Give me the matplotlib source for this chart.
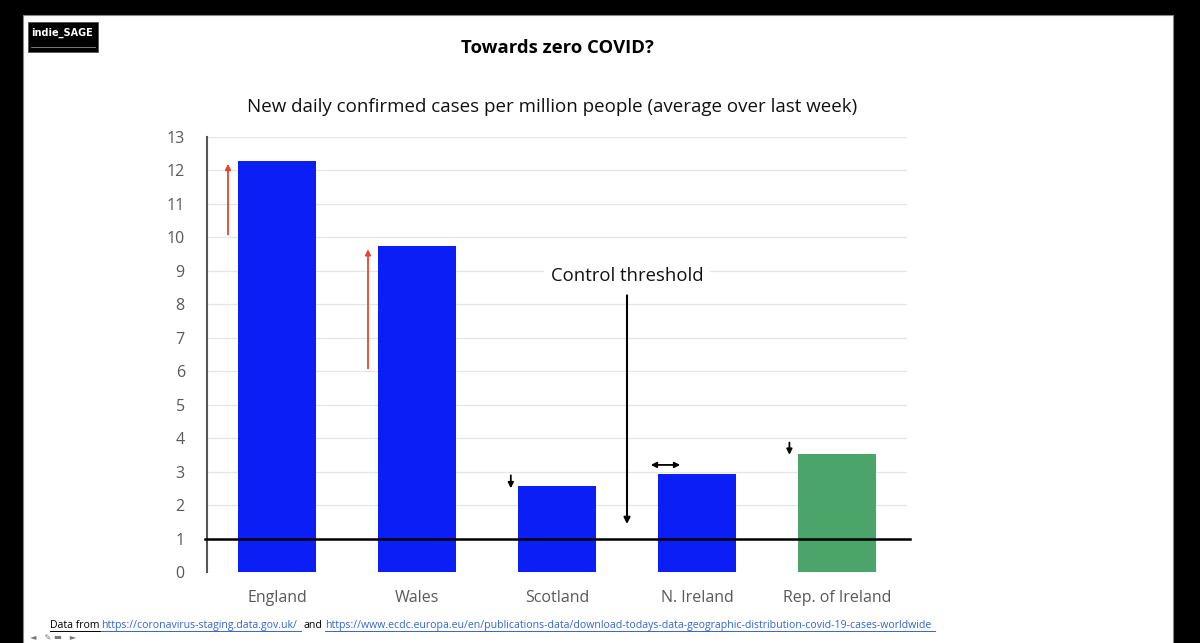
import matplotlib.pyplot as plt
from matplotlib.patches import Rectangle

# data
regions = ["England", "Wales", "Scotland", "N. Ireland", "Rep. of Ireland"]
cases_per_million = [12.28, 9.73, 2.57, 2.93, 3.53]
bar_colors = ["#0a1ef5", "#0a1ef5", "#0a1ef5", "#0a1ef5", "#4ba46a"]
y_ticks = list(range(0, 14))
control_threshold = 1.0

# change arrows: (x, y_start, y_end)
rise_arrows = [(-0.35, 10.0, 12.28), (0.65, 6.0, 9.73)]
fall_arrows = [(1.67, 2.97, 2.42), (3.66, 3.95, 3.42)]
flat_arrow = (2.65, 2.9, 3.2)  # x_start, x_end, y
threshold_arrow = (2.5, 8.35, 1.35)

W, H = 1200, 643
fig = plt.figure(figsize=(W / 100, H / 100), dpi=100, facecolor="black")
plt.rcParams["font.family"] = ["Open Sans", "DejaVu Sans"]

# white slide area
bg = fig.add_axes([0, 0, 1, 1])
bg.set_xlim(0, W)
bg.set_ylim(H, 0)
bg.axis("off")
bg.add_patch(Rectangle((23, 15), 1150, 640, facecolor="white", edgecolor="#888888", lw=0.8))

# logo
bg.add_patch(Rectangle((28, 22), 70, 30, facecolor="black", edgecolor="#555555", lw=0.6))
bg.text(31, 33, "indie_SAGE", color="white", fontsize=7, fontweight="bold",
        family="DejaVu Sans", va="center", ha="left")
bg.plot([31, 95], [47, 47], color="#aaaaaa", lw=0.5)

bg.text(557, 48, "Towards zero COVID?", fontsize=13.3, fontweight="bold", ha="center", va="center")
bg.text(552, 107, "New daily confirmed cases per million people (average over last week)",
        fontsize=13.5, ha="center", va="center", color="#111111")

# footnote
fn = 7.6
fy_txt = 625.5
bg.text(50, fy_txt, "Data from", fontsize=fn, ha="left", va="center", color="black")
bg.plot([50, 100], [631, 631], color="black", lw=0.7)
link1 = "https://coronavirus-staging.data.gov.uk/"
link2 = "https://www.ecdc.europa.eu/en/publications-data/download-todays-data-geographic-distribution-covid-19-cases-worldwide"
bg.text(101, fy_txt, link1, fontsize=fn, ha="left", va="center", color="#3366cc")
bg.plot([101, 301], [631, 631], color="#3366cc", lw=0.7)
bg.text(304, fy_txt, "and", fontsize=fn, ha="left", va="center", color="black")
bg.text(325, fy_txt, link2, fontsize=fn, ha="left", va="center", color="#3366cc")
bg.plot([325, 935], [631, 631], color="#3366cc", lw=0.7)

# player controls at the bottom edge
bg.text(30, 637, "◄   ✎ ▬   ►", fontsize=6, color="#777777", ha="left", va="center",
        family="DejaVu Sans")

# main chart
x0, x1, ytop, ybot = 207, 907, 137, 572
ax = fig.add_axes([x0 / W, (H - ybot) / H, (x1 - x0) / W, (ybot - ytop) / H])
ax.set_facecolor("none")
xs = list(range(len(regions)))
ax.bar(xs, cases_per_million, width=0.557, color=bar_colors, zorder=2)
ax.set_xlim(-0.5, len(regions) - 0.5)
ax.set_ylim(0, 13)
ax.set_yticks(y_ticks)
ax.set_xticks(xs)
ax.set_xticklabels(regions)
ax.tick_params(length=0, colors="#595959", labelsize=11.5)
ax.tick_params(axis="y", pad=16)
ax.tick_params(axis="x", pad=13)
ax.grid(axis="y", color="#e6e6e6", lw=0.9, zorder=0)
for s in ["top", "right", "bottom"]:
    ax.spines[s].set_visible(False)
ax.spines["left"].set_color("#555555")
ax.spines["left"].set_linewidth(1.5)

ax.axhline(control_threshold, xmin=-0.003, xmax=1.004, color="black", lw=1.8, zorder=3, clip_on=False)

for x, y_a, y_b in rise_arrows:
    ax.annotate("", xy=(x, y_b), xytext=(x, y_a),
                arrowprops=dict(arrowstyle="-|>", color="#e8452c", lw=1.3, mutation_scale=8))
for x, y_a, y_b in fall_arrows:
    ax.annotate("", xy=(x, y_b), xytext=(x, y_a),
                arrowprops=dict(arrowstyle="-|>", color="black", lw=1.3, mutation_scale=8))
fx_a, fx_b, fy = flat_arrow
ax.annotate("", xy=(fx_b, fy), xytext=(fx_a, fy),
            arrowprops=dict(arrowstyle="<|-|>", color="black", lw=1.3, mutation_scale=8))
tx, ty_a, ty_b = threshold_arrow
ax.annotate("", xy=(tx, ty_b), xytext=(tx, ty_a),
            arrowprops=dict(arrowstyle="-|>", color="black", lw=1.5, mutation_scale=9))
ax.text(tx, 8.85, "Control threshold", fontsize=13.3, ha="center", va="center", color="#111111",
        bbox=dict(facecolor="white", edgecolor="none", pad=5), zorder=4)

fig.savefig("out.png", dpi=100, facecolor="black")
